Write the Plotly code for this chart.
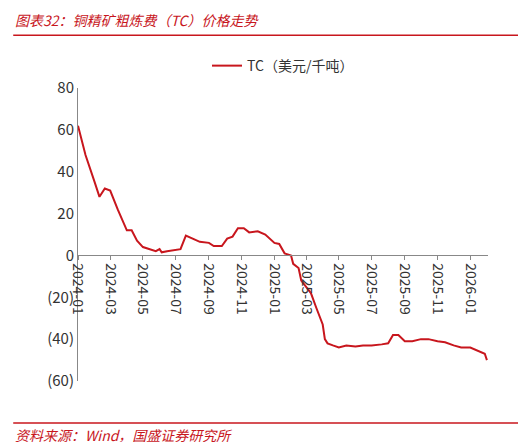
import plotly.graph_objects as go

dates = [
    "2024-01-01", "2024-01-15", "2024-02-01", "2024-02-10", "2024-02-20", "2024-03-01",
    "2024-03-15", "2024-04-01", "2024-04-10", "2024-04-20", "2024-05-01", "2024-05-15",
    "2024-05-25", "2024-06-01", "2024-06-05", "2024-06-15", "2024-07-01", "2024-07-10",
    "2024-07-20", "2024-08-01", "2024-08-15", "2024-09-01", "2024-09-10", "2024-09-25",
    "2024-10-05", "2024-10-15", "2024-10-25", "2024-11-05", "2024-11-15", "2024-12-01",
    "2024-12-15", "2025-01-01", "2025-01-10", "2025-01-20", "2025-02-01", "2025-02-05",
    "2025-02-15", "2025-02-20", "2025-03-01", "2025-03-10", "2025-03-20", "2025-04-01",
    "2025-04-05", "2025-04-10", "2025-04-20", "2025-05-01", "2025-05-15", "2025-06-01",
    "2025-06-15", "2025-07-01", "2025-07-20", "2025-08-01", "2025-08-10", "2025-08-20",
    "2025-09-01", "2025-09-15", "2025-10-01", "2025-10-15", "2025-11-01", "2025-11-15",
    "2025-12-01", "2025-12-15", "2026-01-01", "2026-01-10", "2026-01-20", "2026-01-28",
    "2026-02-01",
]
tc = [
    62, 48, 35, 28, 32, 31,
    22, 12, 12, 7, 4, 3,
    2, 3, 1.5, 2, 2.5, 3,
    9.5, 8, 6.5, 6, 4.5, 4.5,
    8, 9, 13, 13, 11, 11.5,
    10, 6, 5.5, 1, 0, -4,
    -6, -12, -15, -18, -25, -33,
    -40, -42, -43, -44, -43, -43.5,
    -43, -43, -42.5, -42, -38, -38,
    -41, -41, -40, -40, -41, -41.5,
    -43, -44, -44, -45, -46, -47,
    -50,
]
y_ticks = [-60, -40, -20, 0, 20, 40, 60, 80]
y_labels = ["(60)", "(40)", "(20)", "0", "20", "40", "60", "80"]
x_ticks = ["2024-01-01", "2024-03-01", "2024-05-01", "2024-07-01", "2024-09-01", "2024-11-01",
           "2025-01-01", "2025-03-01", "2025-05-01", "2025-07-01", "2025-09-01", "2025-11-01",
           "2026-01-01"]
x_labels = [d[:7] for d in x_ticks]

red = "#c8161d"
fig = go.Figure()
fig.add_trace(go.Scatter(x=dates, y=tc, mode="lines", name="TC（美元/千吨）",
                         line=dict(color=red, width=2)))

fig.update_layout(
    width=526, height=442,
    paper_bgcolor="white", plot_bgcolor="white",
    margin=dict(l=70, r=46, t=80, b=69),
    font=dict(family="Noto Sans CJK SC", size=14, color="#333"),
    showlegend=True,
    legend=dict(orientation="h", x=0.5, xanchor="center", y=1.075, yanchor="middle",
                font=dict(size=14)),
    xaxis=dict(range=["2024-01-01", "2026-02-03"], tickvals=x_ticks, ticktext=x_labels,
               tickangle=90, showgrid=False, showline=True, linecolor="#888",
               ticks="outside", ticklen=4, tickcolor="#888",
               anchor="free", position=60 / 140),
    yaxis=dict(range=[-60, 80], tickvals=y_ticks, ticktext=y_labels, showgrid=False,
               showline=True, linecolor="#888", zeroline=False, tickfont=dict(size=15)),
)

fig.add_annotation(text="<i>图表32：铜精矿粗炼费（TC）价格走势</i>", xref="paper", yref="paper",
                   x=-0.158, y=1.232, xanchor="left", yanchor="middle", showarrow=False,
                   font=dict(size=14, color=red))
fig.add_shape(type="line", xref="paper", yref="paper", x0=-0.158, x1=1.1, y0=1.18, y1=1.18,
              line=dict(color=red, width=1.5))
fig.add_shape(type="line", xref="paper", yref="paper", x0=-0.158, x1=1.1, y0=-0.143, y1=-0.143,
              line=dict(color=red, width=1.5))
fig.add_annotation(text="<i>资料来源：Wind，国盛证券研究所</i>", xref="paper", yref="paper",
                   x=-0.158, y=-0.185, xanchor="left", yanchor="middle", showarrow=False,
                   font=dict(size=14, color=red))

fig.write_html("out.html")
